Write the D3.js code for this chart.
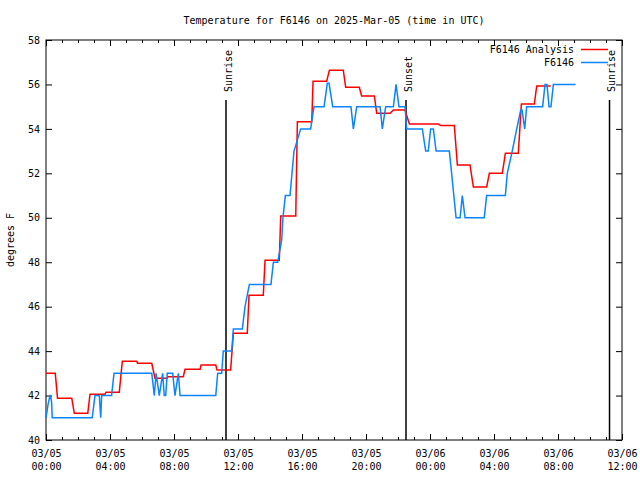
<!DOCTYPE html>
<html>
<head>
<meta charset="utf-8">
<script src="https://cdn.jsdelivr.net/npm/d3@7"></script>
<style>
  body { margin: 0; background: #fff; }
  svg { display: block; }
  text { font-family: "DejaVu Sans Mono", "Liberation Mono", monospace; font-size: 10px; fill: #000; }
</style>
</head>
<body>
<svg id="chart" width="640" height="480"></svg>
<script>
// ---------------- DATA ----------------
const titleText = "Temperature for F6146 on 2025-Mar-05 (time in UTC)";
const yLabel = "degrees F";
const startTime = "2025-03-05T00:00:00Z";
const endTime = "2025-03-06T12:00:00Z";
const yTicks = [40, 42, 44, 46, 48, 50, 52, 54, 56, 58];

// Analysis series (hours since 03/05 00:00 UTC, degrees F)
const analysisHours = [0, 0.58, 0.72, 1.61, 1.77, 2.61, 2.75, 3.69, 3.75, 4.58, 4.77, 5.67, 5.72, 6.61, 6.81, 7.56, 7.63, 8.58, 8.69, 9.63, 9.69, 10.61, 10.69, 11.54,
  11.71, 12.58, 12.69, 13.58, 13.69, 14.58, 14.67, 15.61, 15.71, 16.61, 16.69, 17.54, 17.71, 18.58, 18.73, 19.58, 19.73, 20.52, 20.67, 21.5, 21.71, 22.44,
  22.71, 24.52, 24.67, 25.52, 25.71, 26.5, 26.71, 27.54, 27.71, 28.52, 28.71, 29.52, 29.71, 30.52, 30.67, 31.54];
const analysisTemps = [43.0, 43.0, 41.88, 41.88, 41.2, 41.2, 42.06, 42.06, 42.15, 42.15, 43.54, 43.54, 43.45, 43.45, 42.78, 42.78, 42.85, 42.85, 43.18, 43.18, 43.37, 43.37, 43.15, 43.15,
  44.8, 44.8, 46.51, 46.51, 48.09, 48.09, 50.08, 50.08, 54.32, 54.32, 56.14, 56.14, 56.64, 56.64, 55.87, 55.87, 55.48, 55.48, 54.7, 54.7, 54.85, 54.85,
  54.22, 54.22, 54.15, 54.15, 52.38, 52.38, 51.39, 51.39, 52.0, 52.0, 52.9, 52.9, 55.12, 55.12, 55.93, 55.93];

// Observed series
const obsHours = [0, 0.13, 0.25, 0.29, 0.35, 0.39, 2.89, 3.06, 3.33, 3.42, 3.48, 4.1, 4.25, 6.61, 6.77, 6.88, 7.08, 7.29, 7.39, 7.48, 7.58, 7.92, 8.06, 8.27, 8.38,
  10.61, 10.73, 10.98, 11.08, 11.61, 11.71, 12.27, 12.44, 12.71, 14.06, 14.21, 14.48, 14.73, 14.81, 14.96, 15.25, 15.5, 15.92, 16.54, 16.75, 17.38, 17.58, 17.69, 17.92,
  19.06, 19.21, 19.42, 20.88, 21.02, 21.23, 21.71, 21.88, 22.06, 22.44, 22.54, 23.52, 23.73, 23.89, 24.04, 24.21, 24.38, 25.21, 25.63, 25.75, 25.88, 26.02, 26.19,
  27.39, 27.54, 28.71, 28.83, 29.14, 29.42, 29.67, 29.75, 29.92, 30.04, 31.04, 31.19, 31.31, 31.44, 31.56, 31.71, 33.1];
const obsTemps = [41.0, 41.6, 42.0, 42.0, 41.7, 41.0, 41.0, 42.0, 42.0, 41.0, 42.0, 42.0, 43.0, 43.0, 42.0, 43.0, 42.0, 43.0, 42.0, 42.0, 43.0, 43.0, 42.0, 43.0, 42.0,
  42.0, 43.0, 43.0, 44.0, 44.0, 45.0, 45.0, 46.0, 47.0, 47.0, 48.0, 48.0, 49.0, 50.0, 51.0, 51.0, 53.0, 54.0, 54.0, 55.0, 55.0, 56.05, 56.05, 55.0,
  55.0, 54.0, 55.0, 55.0, 54.0, 55.0, 55.0, 56.0, 55.0, 55.0, 54.0, 54.0, 53.0, 53.0, 54.0, 54.0, 53.0, 53.0, 50.0, 50.0, 50.0, 51.0, 50.0,
  50.0, 51.0, 51.0, 52.0, 53.0, 54.0, 54.85, 54.85, 54.0, 55.0, 55.0, 56.0, 56.0, 55.0, 55.0, 56.0, 56.0];

const seriesNames = ["F6146 Analysis", "F6146"];
const seriesColors = ["#ff0000", "#0a84ff"];

const eventLabels = ["Sunrise", "Sunset", "Sunrise"];
const eventHours = [11.25, 22.5, 35.22];

// ---------------- CHART ----------------
const svg = d3.select("#chart");
const margin = { left: 46, right: 622, top: 40, bottom: 440 };
const t0 = new Date(startTime);
const hToDate = h => new Date(t0.getTime() + h * 3600e3);

const x = d3.scaleUtc().domain([t0, new Date(endTime)]).range([margin.left, margin.right]);
const y = d3.scaleLinear().domain([40, 58]).range([margin.bottom, margin.top]);

// Title
svg.append("text").attr("x", (margin.left + margin.right) / 2).attr("y", 24)
  .attr("text-anchor", "middle").text(titleText);

// Y label
svg.append("text").attr("transform", `translate(14,240) rotate(-90)`)
  .attr("text-anchor", "middle").text(yLabel);

// Frame
svg.append("rect").attr("x", margin.left).attr("y", margin.top)
  .attr("width", margin.right - margin.left).attr("height", margin.bottom - margin.top)
  .attr("fill", "none").attr("stroke", "#000").attr("stroke-width", 1);

const fmtDate = d3.utcFormat("%m/%d"), fmtTime = d3.utcFormat("%H:%M");

function styleAxis(g) {
  g.select(".domain").remove();
  g.selectAll("line").attr("stroke", "#000");
  g.selectAll("text").attr("font-family", null).attr("font-size", null).attr("fill", "#000");
}

// Bottom major
const bottom = svg.append("g").attr("transform", `translate(0,${margin.bottom})`)
  .call(d3.axisBottom(x).ticks(d3.utcHour.every(4)).tickSize(-6).tickPadding(8).tickFormat(d => fmtDate(d)))
  .call(styleAxis);
bottom.selectAll(".tick text").each(function(d) {
  const t = d3.select(this);
  t.text(null).attr("dy", null).attr("y", 16.5);
  t.append("tspan").attr("x", 0).attr("y", 16.5).text(fmtDate(d));
  t.append("tspan").attr("x", 0).attr("y", 30).text(fmtTime(d));
});
// Bottom minor
svg.append("g").attr("transform", `translate(0,${margin.bottom})`)
  .call(d3.axisBottom(x).ticks(d3.utcHour.every(1)).tickSize(-3).tickFormat(""))
  .call(styleAxis);
// Top major/minor
svg.append("g").attr("transform", `translate(0,${margin.top})`)
  .call(d3.axisTop(x).ticks(d3.utcHour.every(4)).tickSize(-6).tickFormat(""))
  .call(styleAxis);
svg.append("g").attr("transform", `translate(0,${margin.top})`)
  .call(d3.axisTop(x).ticks(d3.utcHour.every(1)).tickSize(-3).tickFormat(""))
  .call(styleAxis);
// Left
svg.append("g").attr("transform", `translate(${margin.left},0)`)
  .call(d3.axisLeft(y).tickValues(yTicks).tickSize(-6).tickPadding(6).tickFormat(d3.format("d")))
  .call(styleAxis);
// Right
svg.append("g").attr("transform", `translate(${margin.right},0)`)
  .call(d3.axisRight(y).tickValues(yTicks).tickSize(-6).tickFormat(""))
  .call(styleAxis);

// Events (sunrise/sunset)
const events = eventHours.map((h, i) => ({ t: hToDate(h), label: eventLabels[i] }));
const ev = svg.append("g");
ev.selectAll("line").data(events).join("line")
  .attr("x1", d => x(d.t)).attr("x2", d => x(d.t))
  .attr("y1", 100).attr("y2", margin.bottom)
  .attr("stroke", "#000").attr("stroke-width", 1.5);
ev.selectAll("text").data(events).join("text")
  .attr("transform", d => `translate(${x(d.t) + 5.5},92) rotate(-90)`)
  .attr("text-anchor", "start").text(d => d.label);

// Series
const line = d3.line().x(d => x(d.t)).y(d => y(d.v));
const analysis = analysisHours.map((h, i) => ({ t: hToDate(h), v: analysisTemps[i] }));
const obs = obsHours.map((h, i) => ({ t: hToDate(h), v: obsTemps[i] }));
const seriesData = [analysis, obs];

svg.append("g").selectAll("path").data(seriesData).join("path")
  .attr("d", d => line(d)).attr("fill", "none")
  .attr("stroke", (d, i) => seriesColors[i]).attr("stroke-width", 1.5)
  .attr("stroke-linejoin", "miter");

// Legend
const lg = svg.append("g");
seriesNames.forEach((name, i) => {
  const yy = 49.5 + i * 13;
  lg.append("text").attr("x", 574).attr("y", yy + 3.7).attr("text-anchor", "end").text(name);
  lg.append("line").attr("x1", 581).attr("x2", 608).attr("y1", yy).attr("y2", yy)
    .attr("stroke", seriesColors[i]).attr("stroke-width", 1.5);
});
</script>
</body>
</html>
